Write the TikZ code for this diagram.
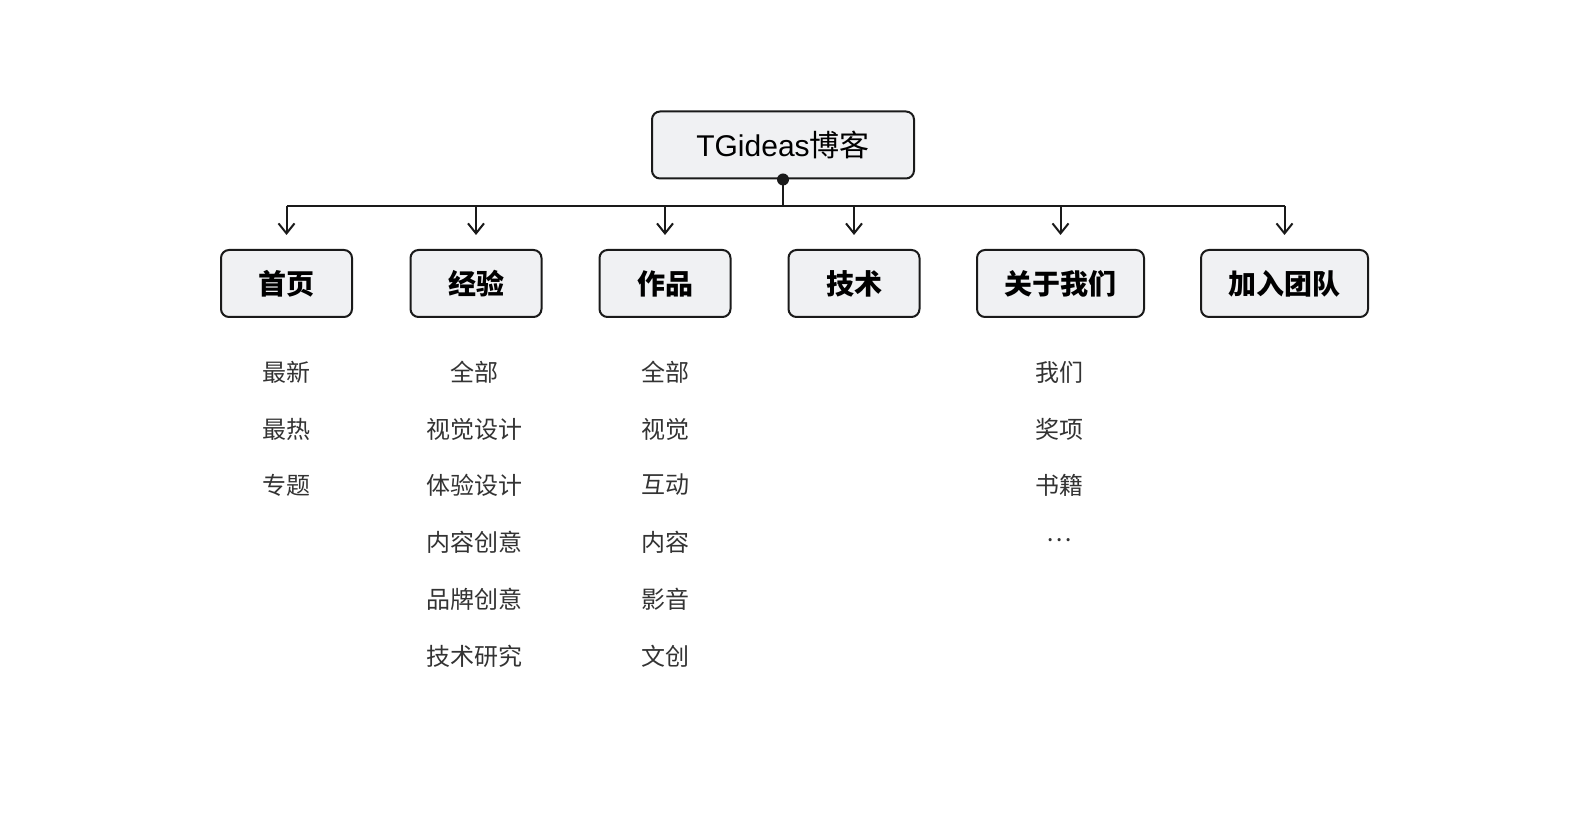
\documentclass[tikz,border=0pt]{standalone}
\usepackage{fontspec}
\setmainfont{Noto Sans CJK SC}
\newfontfamily\latin{Liberation Sans}
\usetikzlibrary{arrows.meta}
\definecolor{boxgray}{HTML}{F0F1F3}
\definecolor{itemgray}{HTML}{333333}
\definecolor{linegray}{HTML}{1A1A1A}
\tikzset{
  box/.style={draw=linegray, line width=1pt, rounded corners=4pt, fill=boxgray,
    minimum width=65.5pt, minimum height=33.5pt, inner sep=0pt,
    font=\bfseries\fontsize{14}{16}\selectfont},
  item/.style={font=\fontsize{12}{14}\selectfont, text=itemgray, inner sep=1pt},
  arr/.style={-{Straight Barb[length=5pt,width=8pt]}, line width=1pt,
    draw=linegray, shorten >=7pt},
}

\begin{document}
\begin{tikzpicture}[x=0.5pt, y=-0.5pt]
      \useasboundingbox (0, 0) rectangle (1588, 838);

      \node[box, minimum width=131pt, font=\fontsize{15}{18}\selectfont] (blog)
        at (783, 145) {{\latin TGideas}博客};

      \node[box] (home) at (286.5, 283.5) {首页};
      \node[box] (exp) at (476, 283.5) {经验};
      \node[box] (works) at (665, 283.5) {作品};
      \node[box] (tech) at (854, 283.5) {技术};
      \node[box, minimum width=83.5pt] (about) at (1060.5, 283.5) {关于我们};
      \node[box, minimum width=83.5pt] (join) at (1284.5, 283.5) {加入团队};

      \coordinate (bus) at (783, 206);
      \fill[linegray] (blog.south) circle (3pt);
      \draw[line width=1pt, linegray] (blog.south) -- (bus);
      \draw[line width=1pt, linegray] (bus -| home) -- (bus -| join);
      \draw[arr] (bus -| home) -- (home.north);
      \draw[arr] (bus -| exp) -- (exp.north);
      \draw[arr] (bus -| works) -- (works.north);
      \draw[arr] (bus -| tech) -- (tech.north);
      \draw[arr] (bus -| about) -- (about.north);
      \draw[arr] (bus -| join) -- (join.north);

      % 首页
      \node[item] (home1) at (286, 372) {最新};
      \node[item] (home2) at (286, 429) {最热};
      \node[item] (home3) at (286, 485) {专题};

      % 经验
      \node[item] (exp1) at (474, 372) {全部};
      \node[item] (exp2) at (474, 429) {视觉设计};
      \node[item] (exp3) at (474, 485) {体验设计};
      \node[item] (exp4) at (474, 542) {内容创意};
      \node[item] (exp5) at (474, 599) {品牌创意};
      \node[item] (exp6) at (474, 656) {技术研究};

      % 作品
      \node[item] (works1) at (665, 372) {全部};
      \node[item] (works2) at (665, 429) {视觉};
      \node[item] (works3) at (665, 485) {互动};
      \node[item] (works4) at (665, 542) {内容};
      \node[item] (works5) at (665, 599) {影音};
      \node[item] (works6) at (665, 656) {文创};

      % 关于我们
      \node[item] (about1) at (1059, 372) {我们};
      \node[item] (about2) at (1059, 429) {奖项};
      \node[item] (about3) at (1059, 485) {书籍};
      \node[item] (about4) at (1059, 540) {…};
    \end{tikzpicture}
\end{document}
